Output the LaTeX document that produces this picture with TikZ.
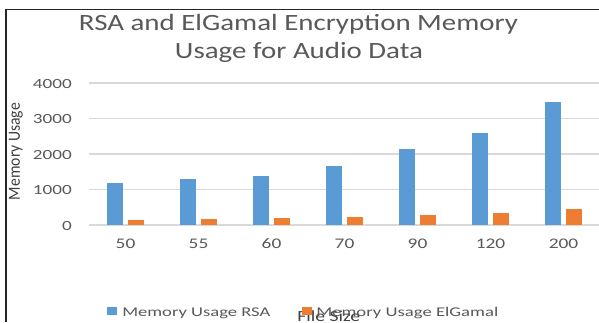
\documentclass[tikz,border=0pt]{standalone}
\usepackage{fontspec}
\setmainfont{Carlito}
\definecolor{rsablue}{HTML}{5B9BD5}
\definecolor{elgorange}{HTML}{ED7D31}
\definecolor{gridgray}{HTML}{D9D9D9}
\definecolor{labelgray}{HTML}{595959}
\definecolor{axisgray}{HTML}{404040}
% one pixel of the chart canvas
\newlength\pxu
\setlength\pxu{0.75pt}
% stretch a text horizontally to a given width in pixels
\newcommand\fitpx[2]{\resizebox{#1\pxu}{\height}{#2}}
\begin{document}
\begin{tikzpicture}[x=0.75pt,y=-0.75pt,
  titletext/.style={text=labelgray,inner sep=0pt},
  ticktext/.style={text=labelgray,inner sep=0pt,font=\fontsize{10.5}{12}\selectfont},
  cattext/.style={text=labelgray,inner sep=0pt,font=\fontsize{11}{13}\selectfont},
  legtext/.style={text=labelgray,inner sep=0pt,font=\fontsize{10}{12}\selectfont},
  gridline/.style={draw=gridgray,line width=0.8pt},
  frameline/.style={draw=black!85,line width=1.2pt}]
\useasboundingbox (0,0) rectangle (599,322);
\fill[white] (0,0) rectangle (599,322);

% chart frame (left and top edges)
\draw[frameline] (6,322) -- (6,9.5) -- (599,9.5);

% title
\node[titletext,anchor=base] (title1) at (298.5,30)
  {\fitpx{439}{\fontsize{17.5}{21}\selectfont RSA and ElGamal Encryption Memory}};
\node[titletext,anchor=base] (title2) at (299,58)
  {\fitpx{248}{\fontsize{17.5}{21}\selectfont Usage for Audio Data}};

% horizontal gridlines and value labels
\foreach \v/\nm in {0/tick0,1000/tick1,2000/tick2,3000/tick3,4000/tick4}{
  \draw[gridline] (89,{225-\v*0.0355}) -- (599,{225-\v*0.0355});
  \node[ticktext,anchor=base east] (\nm) at (72,{230.2-\v*0.0355})
    {\scalebox{1.37}[1]{\v}};
}

% bars: RSA (blue) and ElGamal (orange) per file size
\foreach \i/\cat/\rsa/\elg in {0/50/1180/140,1/55/1290/170,2/60/1390/200,
    3/70/1670/220,4/90/2130/280,5/120/2600/330,6/200/3470/440}{
  \pgfmathsetmacro\c{125.5+73*\i}
  \fill[rsablue] ({\c-18.5},225) rectangle ({\c-2.5},{225-\rsa*0.0355});
  \fill[elgorange] ({\c+2.5},225) rectangle ({\c+18.5},{225-\elg*0.0355});
  \node[cattext,anchor=base] (cat\i) at (\c,248.5) {\scalebox{1.32}[1]{\cat}};
}

% axis titles
\node[inner sep=0pt,text=axisgray,rotate=90,anchor=base] (ytitle) at (20,151.5)
  {\fitpx{97}{\fontsize{12.8}{15}\selectfont Memory Usage}};
\node[inner sep=0pt,text=axisgray,anchor=base west] (xtitle) at (297,321)
  {\fitpx{63}{\fontsize{11.6}{14}\selectfont File Size}};

% legend
\fill[rsablue] (107,307) rectangle (117,315);
\node[legtext,anchor=base west] (legrsa) at (122,316)
  {\fitpx{148}{Memory Usage RSA}};
\fill[elgorange] (302,307) rectangle (312,315);
\node[legtext,anchor=base west] (legelg) at (316,316)
  {\fitpx{182}{Memory Usage ElGamal}};
\end{tikzpicture}
\end{document}
